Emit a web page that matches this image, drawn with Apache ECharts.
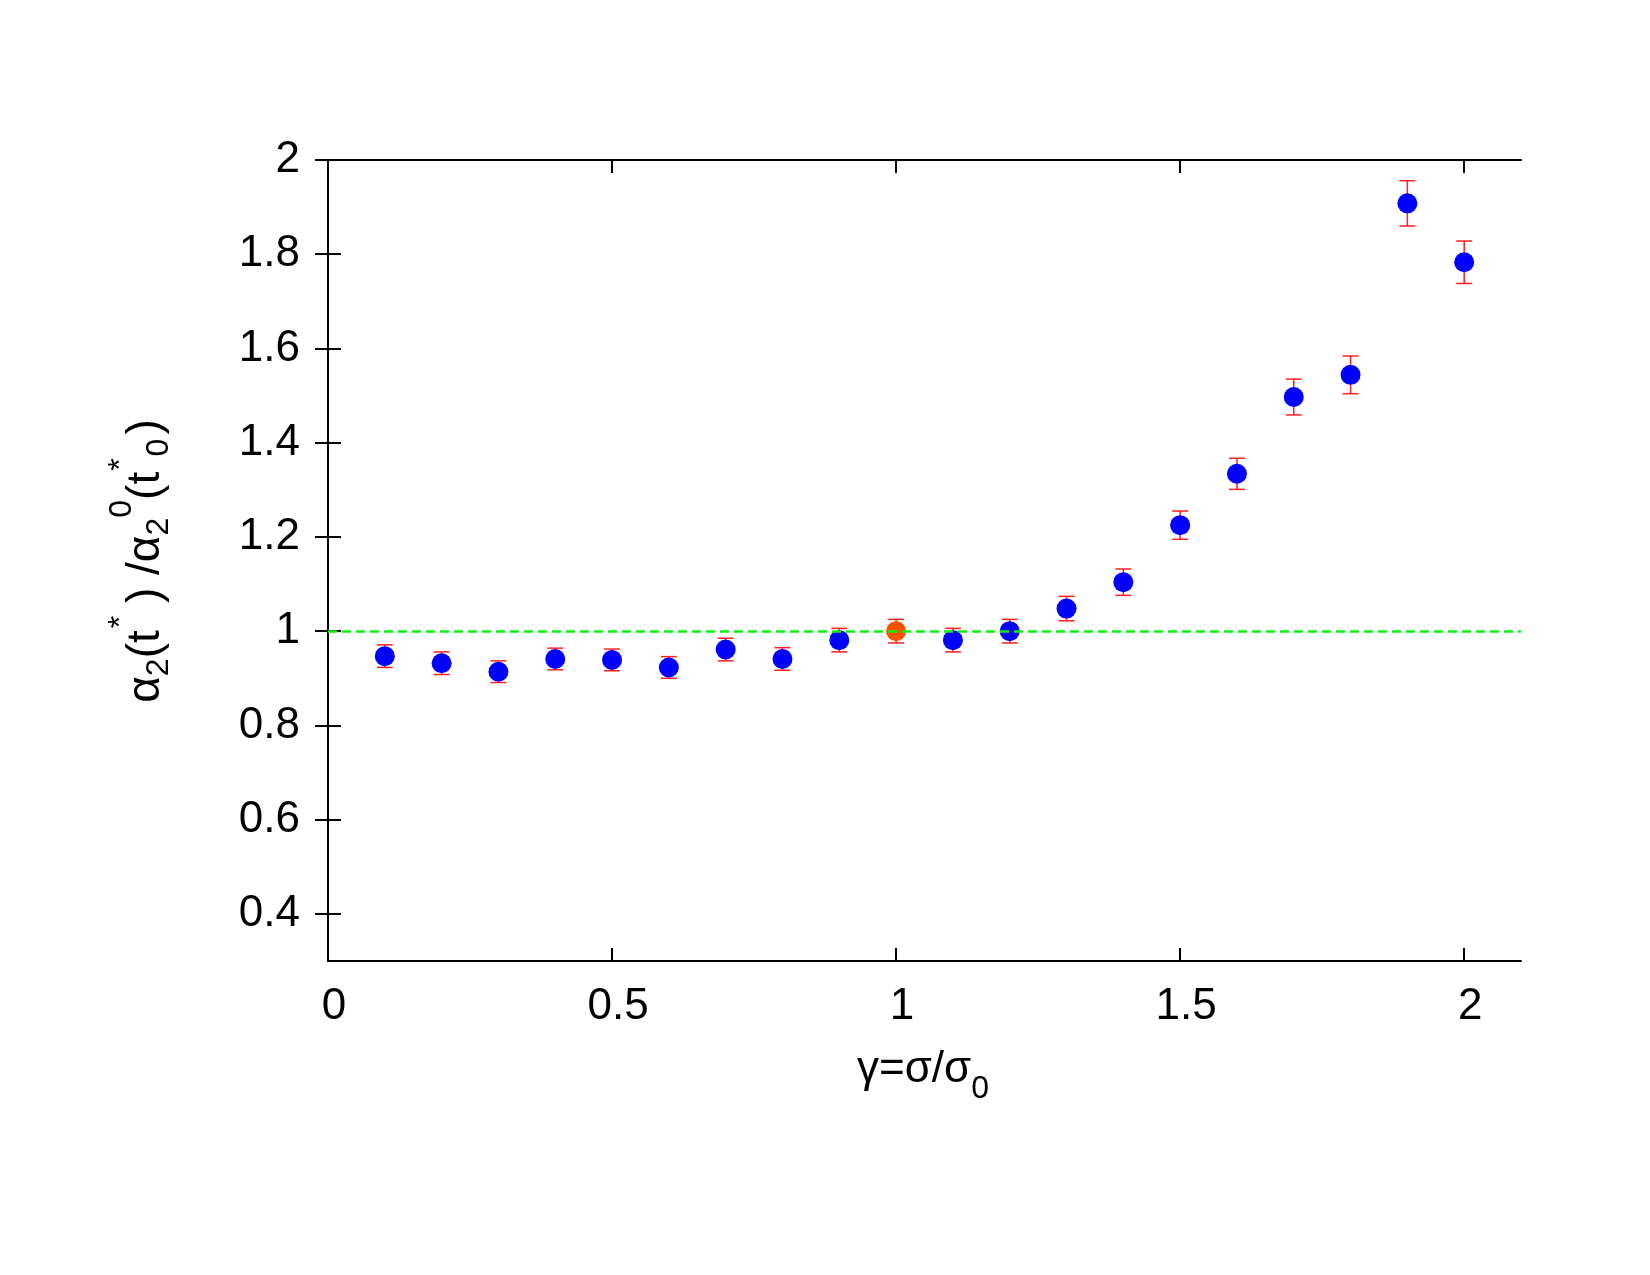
<!DOCTYPE html>
<html>
<head>
<meta charset="utf-8">
<script src="https://cdn.jsdelivr.net/npm/echarts@6/dist/echarts.min.js"></script>
<style>
html,body{margin:0;padding:0;background:#fff;}
#chart{width:1650px;height:1275px;}
</style>
</head>
<body>
<div id="chart"></div>
<script>
// gamma = sigma/sigma0 and the ratio, blue points
var gammaVals = [0.1,0.2,0.3,0.4,0.5,0.6,0.7,0.8,0.9,1.1,1.2,1.3,1.4,1.5,1.6,1.7,1.8,1.9,2.0];
var ratioVals = [0.947,0.932,0.914,0.941,0.939,0.923,0.961,0.941,0.981,0.981,1.0,1.048,1.104,1.225,1.334,1.497,1.544,1.908,1.783];
var ratioErrs = [0.024,0.024,0.023,0.023,0.023,0.023,0.024,0.024,0.025,0.025,0.025,0.026,0.028,0.030,0.033,0.038,0.040,0.048,0.045];
// reference point (orange)
var refGamma = [1.0];
var refRatio = [1.0];
var refErrs = [0.025];
var refLevel = 1;
var xTicks = [0,0.5,1,1.5,2];
var yTicks = [0.4,0.6,0.8,1,1.2,1.4,1.6,1.8,2];

var FAM = '"Liberation Sans", Arial, Helvetica, sans-serif';

var ctx = document.createElement('canvas').getContext('2d');
function textW(t, s){
	ctx.font = s + 'px ' + FAM;
	return ctx.measureText(t).width;
}
// lay out pieces (sub/superscripts) on one baseline, centred on cx
function richLabel(pieces, cx, cy, rot){
	var total = 0, i, w = [];
	for(i=0;i<pieces.length;i++){
		w[i] = textW(pieces[i].t, pieces[i].s) + (pieces[i].gap || 0);
		total += w[i];
	}
	var x = -total/2, kids = [];
	for(i=0;i<pieces.length;i++){
		var p = pieces[i];
		kids.push({
			type:'text',
			x: x + (p.gap || 0),
			y: (p.dy || 0) - 0.35*p.s,
			style:{text:p.t, font:p.s+'px '+FAM, fill:'#000', textAlign:'left', verticalAlign:'middle', textVerticalAlign:'middle'}
		});
		x += w[i];
	}
	return {type:'group', x:cx, y:cy, rotation:rot || 0, children:kids};
}

function toPairs(xs, ys){
	var out = [];
	for(var i=0;i<xs.length;i++) out.push([xs[i], ys[i]]);
	return out;
}
function toBars(xs, ys, es){
	var out = [];
	for(var i=0;i<xs.length;i++) out.push([xs[i], ys[i]-es[i], ys[i]+es[i]]);
	return out;
}

function errorBar(params, api){
	var lo = api.coord([api.value(0), api.value(1)]);
	var hi = api.coord([api.value(0), api.value(2)]);
	var cap = 8;
	var st = {stroke:'#ff2020', lineWidth:1.5};
	return {type:'group', children:[
		{type:'line', shape:{x1:lo[0],y1:lo[1],x2:hi[0],y2:hi[1]}, style:st},
		{type:'line', shape:{x1:lo[0]-cap,y1:lo[1],x2:lo[0]+cap,y2:lo[1]}, style:st},
		{type:'line', shape:{x1:hi[0]-cap,y1:hi[1],x2:hi[0]+cap,y2:hi[1]}, style:st}
	]};
}

var myChart = echarts.init(document.getElementById('chart'));

var axisLine = {show:true, lineStyle:{color:'#000', width:2}};
var tickStyle = {lineStyle:{color:'#000', width:2}};
var labelStyle = {color:'#000', fontSize:44, fontFamily:FAM};

var option = {
	animation:false,
	backgroundColor:'#fff',
	grid:{left:328, top:160, width:1193, height:801},
	xAxis:[
		{type:'value', min:0, max:2.1, position:'bottom',
		 axisLine:axisLine, splitLine:{show:false},
		 axisTick:{show:true, inside:true, length:13, customValues:xTicks, lineStyle:tickStyle.lineStyle},
		 axisLabel:Object.assign({margin:24, customValues:xTicks, padding:[0,0,0,12]}, labelStyle)},
		{type:'value', min:0, max:2.1, position:'top',
		 axisLine:axisLine, splitLine:{show:false},
		 axisTick:{show:true, inside:true, length:13, customValues:xTicks, lineStyle:tickStyle.lineStyle},
		 axisLabel:{show:false}}
	],
	yAxis:[
		{type:'value', min:0.3, max:2, position:'left',
		 axisLine:axisLine, splitLine:{show:false},
		 axisTick:{show:true, inside:true, length:13, customValues:yTicks, lineStyle:tickStyle.lineStyle},
		 axisLabel:Object.assign({margin:28, customValues:yTicks}, labelStyle)},
		{type:'value', min:0.3, max:2, position:'right',
		 axisLine:axisLine, splitLine:{show:false},
		 axisTick:{show:true, inside:true, length:13, customValues:yTicks, lineStyle:tickStyle.lineStyle},
		 axisLabel:{show:false}}
	],
	graphic:[
		richLabel([
			{t:'γ=σ/σ', s:44},
			{t:'0', s:32, dy:15}
		], 923, 1085, 0),
		richLabel([
			{t:'α', s:46},
			{t:'2', s:32, dy:8},
			{t:'(t', s:46},
			{t:'*', s:32, dy:-30, gap:2},
			{t:' )', s:46},
			{t:' /', s:46},
			{t:'α', s:46},
			{t:'2', s:32, dy:8},
			{t:'0', s:32, dy:-29},
			{t:'(t', s:46},
			{t:'*', s:32, dy:-30, gap:1},
			{t:'0', s:32, dy:8, gap:2},
			{t:')', s:46, gap:4}
		], 162, 561, Math.PI/2)
	],
	series:[
		{
			name:'err', type:'custom', z:1,
			renderItem:errorBar,
			encode:{x:0, y:[1,2]},
			data:toBars(gammaVals, ratioVals, ratioErrs).concat(toBars(refGamma, refRatio, refErrs))
		},
		{
			name:'ratio', type:'scatter', z:2,
			symbol:'circle', symbolSize:20,
			itemStyle:{color:'#0000ff', opacity:1},
			data:toPairs(gammaVals, ratioVals)
		},
		{
			name:'level', type:'line', z:3,
			data:[],
			markLine:{
				silent:true, symbol:['none','none'], label:{show:false},
				lineStyle:{color:'#11ee11', width:2.5, type:[9,5]},
				data:[{yAxis:refLevel}]
			}
		},
		{
			name:'ref', type:'scatter', z:4,
			symbol:'circle', symbolSize:20,
			itemStyle:{color:'#ff5200', opacity:1},
			data:toPairs(refGamma, refRatio)
		}
	]
};
myChart.setOption(option);
</script>
</body>
</html>
